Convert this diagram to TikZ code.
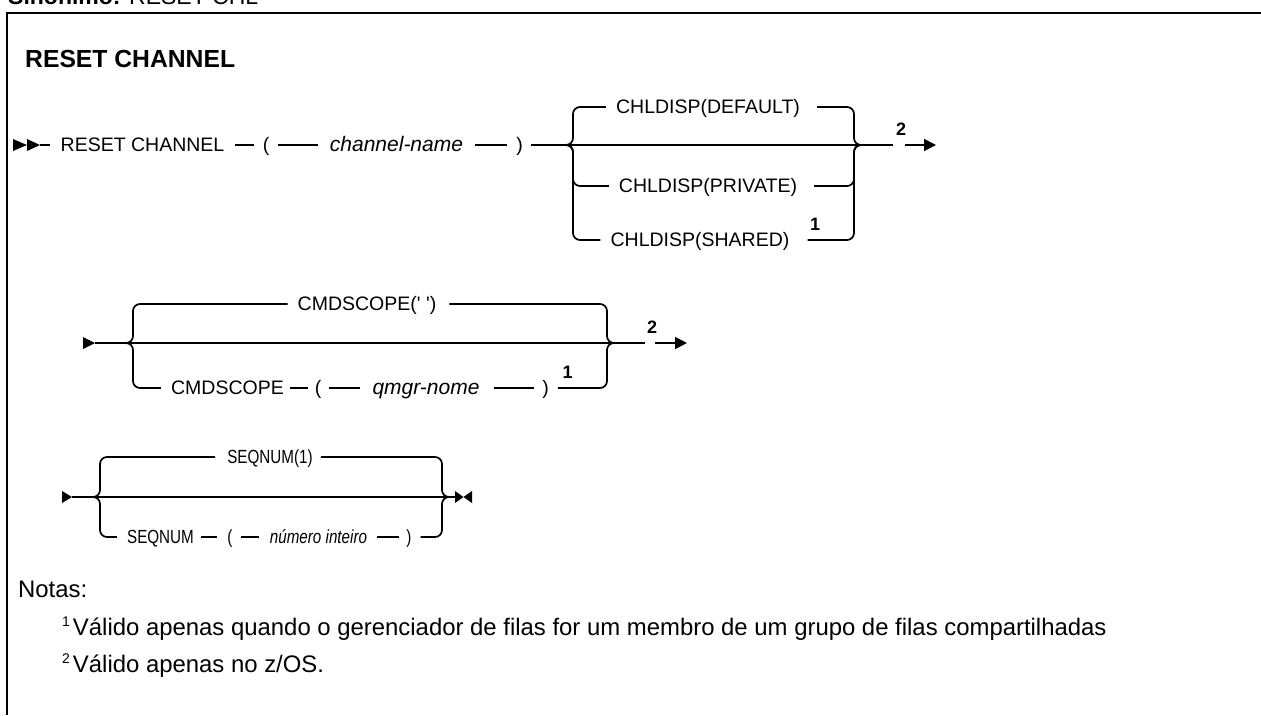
\documentclass[tikz,border=0pt]{standalone}
\usepackage{fontspec}
\setmainfont{Liberation Sans}
\newfontfamily\dfont{Liberation Sans}
\newfontfamily\dcfont[FakeStretch=0.8]{Liberation Sans}
\usetikzlibrary{arrows.meta}
\begin{document}
\begin{tikzpicture}[x=1pt,y=-1pt,
  rail/.style={line width=1.7pt},
  brace/.style={line width=1.7pt,rounded corners=7pt},
  tok/.style={inner sep=0pt,text height=13.8pt,text depth=0pt,font=\dfont\fontsize{19.5}{22}\selectfont},
  itok/.style={tok,font=\dfont\itshape\fontsize{21}{22}\selectfont},
  ctok/.style={tok,font=\dcfont\fontsize{19}{22}\selectfont},
  citok/.style={tok,font=\dcfont\itshape\fontsize{19}{22}\selectfont},
  fnum/.style={inner sep=0pt,font=\dfont\bfseries\fontsize{18}{20}\selectfont},
  endarrow/.style={line width=1.7pt,-{Triangle[length=12pt,width=12pt]}},
  note/.style={inner sep=0pt,anchor=base west,font=\fontsize{23.9}{28}\selectfont}]
\useasboundingbox (0,0) rectangle (1261,715);
% frame
\draw[line width=2pt] (6.5,715) -- (6.5,12.5) -- (1261,12.5);
\node[inner sep=0pt,anchor=base west,font=\fontsize{23}{26}\selectfont] (hdr) at (8,4) {\textbf{Sinônimo:} RESET CHL};
\node[inner sep=0pt,anchor=base west,font=\bfseries\fontsize{24.7}{28}\selectfont] (title) at (25,67) {RESET CHANNEL};

% ---------- row 1 ----------
\fill (13,139) -- (27,145) -- (13,151) -- cycle;
\fill (27,139) -- (40,145) -- (27,151) -- cycle;
\coordinate (s1) at (40,145);
\node[tok] (rc) at (142.5,145) {RESET CHANNEL};
\node[tok] (lp1) at (266,145) {(};
\node[itok] (cn) at (396.5,145) {channel-name};
\node[tok] (rp1) at (519.5,145) {)};
\coordinate (j1L) at (563,145);
\coordinate (j1R) at (860,145);
\coordinate (e1) at (893,145);
\coordinate (a1s) at (905,145);
\coordinate (a1e) at (936,145);
\node[tok] (d1) at (708,107) {CHLDISP(DEFAULT)};
\node[tok] (p1) at (708,186) {CHLDISP(PRIVATE)};
\node[tok] (sh1) at (700,240) {CHLDISP(SHARED)};
\node[fnum] (f11) at (815,224) {1};
\node[fnum] (f12) at (901,129) {2};
\draw[rail] (s1) -- ([xshift=-10pt]rc.west);
\draw[rail,shorten <=10pt,shorten >=9pt] (rc) -- (lp1);
\draw[rail,shorten <=9pt,shorten >=12pt] (lp1) -- (cn);
\draw[rail,shorten <=12pt,shorten >=9pt] (cn) -- (rp1);
\draw[rail] ([xshift=8pt]rp1.east) -- (e1);
\draw[endarrow] (a1s) -- (a1e);
\draw[brace] (j1L) -| (573,107) -- ([xshift=-10pt]d1.west);
\draw[brace] (j1L) -| (573,186) -- ([xshift=-10pt]p1.west);
\draw[brace] (j1L) -| (573,240) -- ([xshift=-10pt]sh1.west);
\draw[brace] ([xshift=17pt]d1.east) -| (854,145) -- (j1R);
\draw[brace] ([xshift=17pt]p1.east) -| (854,145) -- (j1R);
\draw[brace] ([xshift=18pt]sh1.east) -| (854,145) -- (j1R);

% ---------- row 2 ----------
\fill (83,337) -- (95,343) -- (83,349) -- cycle;
\coordinate (s2) at (95,343);
\coordinate (j2L) at (127,343);
\coordinate (j2R) at (615,343);
\coordinate (e2) at (645,343);
\coordinate (a2s) at (655,343);
\coordinate (a2e) at (687,343);
\node[tok] (c2) at (367,304) {CMDSCOPE(\textquotesingle\ \textquotesingle)};
\node[tok] (cs) at (227.5,388) {CMDSCOPE};
\node[tok] (lp2) at (318,388) {(};
\node[itok] (qn) at (426,388) {qmgr-nome};
\node[tok] (rp2) at (545.5,388) {)};
\node[fnum] (f21) at (567.5,372) {1};
\node[fnum] (f22) at (652,327) {2};
\draw[rail] (s2) -- (e2);
\draw[endarrow] (a2s) -- (a2e);
\draw[brace] (j2L) -| (133,304) -- ([xshift=-10pt]c2.west);
\draw[brace] (j2L) -| (133,388) -- ([xshift=-10pt]cs.west);
\draw[brace] ([xshift=13pt]c2.east) -| (607,343) -- (j2R);
\draw[brace] ([xshift=9pt]rp2.east) -| (607,343) -- (j2R);
\draw[rail,shorten <=6pt,shorten >=7pt] (cs) -- (lp2);
\draw[rail,shorten <=8pt,shorten >=12pt] (lp2) -- (qn);
\draw[rail,shorten <=14pt,shorten >=8pt] (qn) -- (rp2);

% ---------- row 3 ----------
\fill (62,491) -- (72,497) -- (62,503) -- cycle;
\coordinate (s3) at (72,497);
\coordinate (j3L) at (95,497);
\coordinate (j3R) at (447,497);
\coordinate (e3) at (455,497);
\fill (455,491) -- (463.5,497) -- (455,503) -- cycle;
\fill (472,491) -- (463.5,497) -- (472,503) -- cycle;
\node[ctok] (sq1) at (270,457) {SEQNUM(1)};
\node[ctok] (sq) at (160.5,537) {SEQNUM};
\node[ctok] (lp3) at (230,537) {(};
\node[citok] (ni) at (318.5,537) {número inteiro};
\node[ctok] (rp3) at (409,537) {)};
\draw[rail] (s3) -- (e3);
\draw[brace] (j3L) -| (100,457) -- ([xshift=-12pt]sq1.west);
\draw[brace] (j3L) -| (100,537) -- ([xshift=-10pt]sq.west);
\draw[brace] ([xshift=8pt]sq1.east) -| (442,497) -- (j3R);
\draw[brace] ([xshift=9pt]rp3.east) -| (442,497) -- (j3R);
\draw[rail,shorten <=7pt,shorten >=10pt] (sq) -- (lp3);
\draw[rail,shorten <=8pt,shorten >=11pt] (lp3) -- (ni);
\draw[rail,shorten <=10pt,shorten >=7pt] (ni) -- (rp3);

% ---------- notes ----------
\node[note] (notas) at (18,597) {Notas:};
\node[note] (n1) at (62,635) {\raisebox{9pt}{\fontsize{14}{14}\selectfont 1}\kern3pt Válido apenas quando o gerenciador de filas for um membro de um grupo de filas compartilhadas};
\node[note] (n2) at (62,672) {\raisebox{9pt}{\fontsize{14}{14}\selectfont 2}\kern3pt Válido apenas no z/OS.};
\end{tikzpicture}
\end{document}
